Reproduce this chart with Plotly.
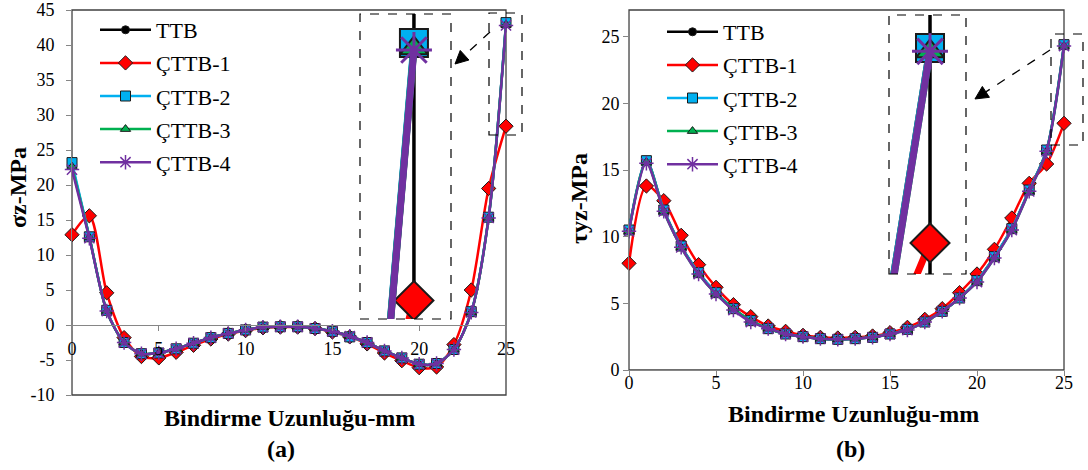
import math
import plotly.graph_objects as go

W, H = 1088, 470

# ---------------- data ----------------
x_mm = list(range(26))

# (a) sigma_z  [MPa]
sz_ttb  = [22.8, 12.6, 2.0, -2.5, -4.1, -4.0, -3.4, -2.6, -1.8, -1.2, -0.7, -0.3, -0.25, -0.25, -0.5, -0.9, -1.6, -2.5, -3.7, -4.7, -5.6, -5.5, -3.5, 1.8, 15.4, 43.0]
sz_c1   = [12.9, 15.6, 4.6, -1.8, -4.5, -4.7, -3.9, -2.9, -2.0, -1.3, -0.8, -0.4, -0.3, -0.3, -0.5, -1.0, -1.7, -2.7, -4.0, -5.1, -6.1, -6.0, -2.8, 5.0, 19.5, 28.4]
sz_c2   = [23.2, 12.6, 2.1, -2.5, -4.1, -4.0, -3.4, -2.6, -1.8, -1.2, -0.7, -0.3, -0.25, -0.25, -0.5, -0.9, -1.7, -2.5, -3.7, -4.7, -5.6, -5.5, -3.5, 1.9, 15.4, 43.2]
sz_c3   = [22.6, 12.5, 2.0, -2.5, -4.1, -4.0, -3.4, -2.6, -1.8, -1.2, -0.7, -0.3, -0.25, -0.25, -0.5, -0.9, -1.6, -2.5, -3.7, -4.7, -5.6, -5.5, -3.5, 1.8, 15.3, 42.9]
sz_c4   = [22.2, 12.4, 2.0, -2.5, -4.1, -4.0, -3.4, -2.6, -1.8, -1.2, -0.7, -0.3, -0.25, -0.25, -0.5, -0.9, -1.6, -2.5, -3.7, -4.7, -5.6, -5.5, -3.5, 1.8, 15.3, 42.8]

# (b) tau_yz  [MPa]
tyz_ttb = [10.5, 15.7, 12.0, 9.3, 7.3, 5.8, 4.6, 3.7, 3.1, 2.7, 2.5, 2.35, 2.3, 2.35, 2.45, 2.7, 3.05, 3.6, 4.4, 5.4, 6.7, 8.5, 10.6, 13.5, 16.5, 24.4]
tyz_c1  = [8.0, 13.8, 12.7, 10.1, 7.9, 6.2, 4.9, 4.0, 3.3, 2.9, 2.6, 2.45, 2.4, 2.45, 2.55, 2.8, 3.2, 3.8, 4.6, 5.8, 7.2, 9.05, 11.4, 14.0, 15.45, 18.5]
tyz_c2  = [10.5, 15.7, 12.0, 9.3, 7.3, 5.8, 4.6, 3.7, 3.1, 2.7, 2.5, 2.35, 2.3, 2.35, 2.45, 2.7, 3.05, 3.6, 4.4, 5.4, 6.7, 8.5, 10.6, 13.5, 16.5, 24.4]
tyz_c3  = [10.4, 15.6, 11.9, 9.2, 7.2, 5.7, 4.6, 3.7, 3.1, 2.7, 2.5, 2.35, 2.3, 2.35, 2.45, 2.7, 3.0, 3.6, 4.4, 5.4, 6.6, 8.4, 10.5, 13.4, 16.4, 24.3]
tyz_c4  = [10.4, 15.5, 11.9, 9.2, 7.2, 5.7, 4.5, 3.6, 3.1, 2.7, 2.5, 2.35, 2.3, 2.35, 2.45, 2.7, 3.0, 3.6, 4.4, 5.4, 6.6, 8.4, 10.5, 13.4, 16.4, 24.3]

names = ["TTB", "ÇTTB-1", "ÇTTB-2", "ÇTTB-3", "ÇTTB-4"]
x_ticks = [0, 5, 10, 15, 20, 25]
sz_ticks = [-10, -5, 0, 5, 10, 15, 20, 25, 30, 35, 40, 45]
sz_ticktext = ["-10", "-5", "0", "5", "10", "15", "20", "25", "30", "35", "40", "45"]
tyz_ticks = [0, 5, 10, 15, 20, 25]

left_series = [sz_ttb, sz_c1, sz_c2, sz_c3, sz_c4]
right_series = [tyz_ttb, tyz_c1, tyz_c2, tyz_c3, tyz_c4]

# magnified windows (axis ranges of the insets)
inset_a_x = [23.69, 25.9]
inset_a_y = [27.34, 44.87]
inset_b_x = [24.02, 25.86]
inset_b_y = [17.56, 25.4]

# ---------------- styles ----------------
colors = ["#000000", "#FF0000", "#00B0F0", "#00B050", "#7030A0"]
symbols = ["circle", "diamond", "square", "triangle-up", "asterisk-open"]
msize = [8, 11, 10, 9, 12]
msize_big = [18, 30, 28, 24, 30]
FONT = "Liberation Serif, Times New Roman, serif"


def px(xp):
    return xp / W


def py(yp):
    return (H - yp) / H


def marker(i, big=False):
    s = msize_big[i] if big else msize[i]
    if symbols[i] == "asterisk-open":
        return dict(symbol=symbols[i], size=s, color=colors[i],
                    line=dict(color=colors[i], width=3 if big else 1.5))
    return dict(symbol=symbols[i], size=s, color=colors[i],
                line=dict(color="#1a1a1a", width=2 if big else 1))


fig = go.Figure()

panels = [
    (left_series, "x", "y", "x3", "y3", "legend", "L"),
    (right_series, "x2", "y2", "x4", "y4", "legend2", "R"),
]
for series, xa, ya, xi, yi, leg, tag in panels:
    for i, vals in enumerate(series):
        fig.add_trace(go.Scatter(
            x=x_mm, y=vals, name=names[i], mode="lines+markers",
            line=dict(color=colors[i], width=2.5, shape="spline", smoothing=0.8),
            marker=marker(i), xaxis=xa, yaxis=ya, legend=leg,
            legendgroup=tag + str(i), cliponaxis=False))
    for i, vals in enumerate(series):
        fig.add_trace(go.Scatter(
            x=x_mm, y=vals, name=names[i], mode="lines+markers",
            line=dict(color=colors[i], width=7),
            marker=marker(i, big=True), xaxis=xi, yaxis=yi,
            showlegend=False, hoverinfo="skip"))

tick_font = dict(family=FONT, size=18, color="#000000")
axis_common = dict(showgrid=False, zeroline=False, showline=True, automargin=False,
                   linecolor="#868686", linewidth=1, ticks="outside",
                   ticklen=5, tickcolor="#868686", tickfont=tick_font)
hidden = dict(visible=False, automargin=False, showgrid=False, zeroline=False)

fig.update_layout(
    template="none",
    width=W, height=H,
    margin=dict(l=0, r=0, t=0, b=0, pad=0, autoexpand=False),
    paper_bgcolor="white", plot_bgcolor="white",
    showlegend=True,
    xaxis=dict(domain=[px(72), px(506)], range=[0, 25], tickvals=x_ticks,
               anchor="free", position=py(325), ticklabelstandoff=2, **axis_common),
    yaxis=dict(domain=[py(395), py(10)], range=[-10, 45], tickvals=sz_ticks,
               ticktext=sz_ticktext, anchor="x", ticklabelstandoff=8, **axis_common),
    xaxis2=dict(domain=[px(629), px(1064)], range=[0, 25], tickvals=x_ticks,
                anchor="y2", ticklabelstandoff=-9, **axis_common),
    yaxis2=dict(domain=[py(370), py(10)], range=[0, 27], tickvals=tyz_ticks,
                anchor="x2", ticklabelstandoff=0, **axis_common),
    xaxis3=dict(domain=[px(360), px(451)], range=inset_a_x, anchor="y3", **hidden),
    yaxis3=dict(domain=[py(319), py(14)], range=inset_a_y, anchor="x3", **hidden),
    xaxis4=dict(domain=[px(889), px(966)], range=inset_b_x, anchor="y4", **hidden),
    yaxis4=dict(domain=[py(274), py(15)], range=inset_b_y, anchor="x4", **hidden),
    legend=dict(x=px(95), y=py(9), xanchor="left", yanchor="top",
                bgcolor="rgba(0,0,0,0)", traceorder="grouped", tracegroupgap=1.5,
                itemwidth=51, font=dict(family=FONT, size=22, color="#000000")),
    legend2=dict(x=px(662), y=py(11), xanchor="left", yanchor="top",
                 bgcolor="rgba(0,0,0,0)", traceorder="grouped", tracegroupgap=1.5,
                 itemwidth=51, font=dict(family=FONT, size=22, color="#000000")),
)

shapes = []
# plot frames
for xr, yr in [("x domain", "y domain"), ("x2 domain", "y2 domain")]:
    shapes.append(dict(type="rect", xref=xr, yref=yr, x0=0, x1=1, y0=0, y1=1,
                       line=dict(color="#404040", width=1.3), layer="below"))
# magnified frame edge (x = 25) inside the insets
for xr, yr, yrng in [("x3", "y3", inset_a_y), ("x4", "y4", inset_b_y)]:
    shapes.append(dict(type="line", xref=xr, yref=yr, x0=25, x1=25,
                       y0=yrng[0], y1=yrng[1],
                       line=dict(color="#000000", width=3.5), layer="between"))
# inset frames
for xr, yr in [("x3 domain", "y3 domain"), ("x4 domain", "y4 domain")]:
    shapes.append(dict(type="rect", xref=xr, yref=yr, x0=0, x1=1, y0=0, y1=1,
                       line=dict(color="#000000", width=1.2, dash="dash")))
# small source rectangles
for (a, b, c, d) in [(489, 13, 522, 135), (1051, 34, 1083, 145)]:
    shapes.append(dict(type="rect", xref="paper", yref="paper",
                       x0=px(a), x1=px(c), y0=py(d), y1=py(b),
                       line=dict(color="#000000", width=1.2, dash="dash")))
# dashed arrows with heads
for (sx, sy, tx, ty) in [(490, 32, 455, 64), (1050, 50, 975, 99)]:
    dx, dy = tx - sx, ty - sy
    L = math.hypot(dx, dy)
    ux, uy = dx / L, dy / L
    hl, hw = 13, 6.5
    bx, by = tx - hl * ux, ty - hl * uy
    pxp, pyp = -uy, ux
    shapes.append(dict(type="line", xref="paper", yref="paper",
                       x0=px(sx), y0=py(sy), x1=px(bx), y1=py(by),
                       line=dict(color="#000000", width=1.3, dash="dash")))
    p1 = (bx + hw * pxp, by + hw * pyp)
    p2 = (bx - hw * pxp, by - hw * pyp)
    path = "M {:.4f} {:.4f} L {:.4f} {:.4f} L {:.4f} {:.4f} Z".format(
        px(tx), py(ty), px(p1[0]), py(p1[1]), px(p2[0]), py(p2[1]))
    shapes.append(dict(type="path", xref="paper", yref="paper", path=path,
                       fillcolor="#000000", line=dict(color="#000000", width=1)))
fig.update_layout(shapes=shapes)

title_font = dict(family=FONT, size=24, color="#000000")
ann = [
    dict(text="<b>σz-MPa</b>", x=px(18), y=py(188), textangle=-90),
    dict(text="<b>τyz-MPa</b>", x=px(579), y=py(199), textangle=-90),
    dict(text="<b>Bindirme Uzunluğu-mm</b>", x=px(289), y=py(418)),
    dict(text="<b>Bindirme Uzunluğu-mm</b>", x=px(853), y=py(414)),
    dict(text="<b>(a)</b>", x=px(281), y=py(449)),
    dict(text="<b>(b)</b>", x=px(850), y=py(449)),
]
for a in ann:
    a.update(xref="paper", yref="paper", showarrow=False, font=title_font,
             xanchor="center", yanchor="middle")
fig.update_layout(annotations=ann)

fig.write_html("out.html", config={"displayModeBar": False},
               post_script="document.body.style.margin='0';")
